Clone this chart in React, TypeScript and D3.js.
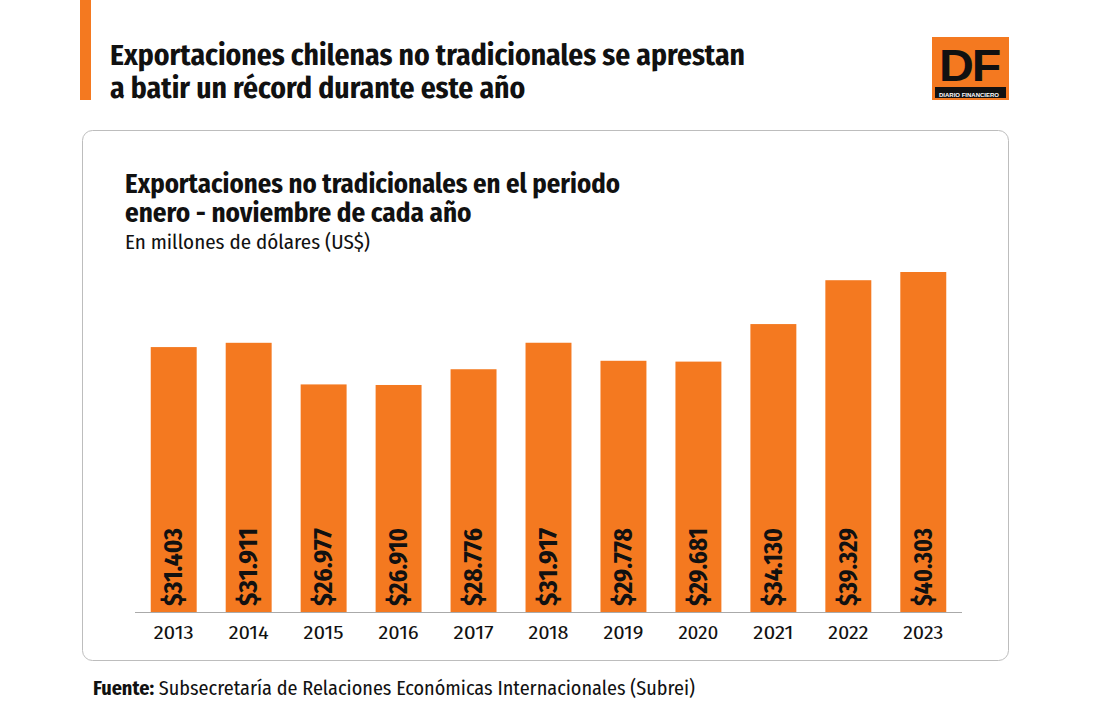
import React from "react";
import * as d3 from "d3";

const years = ["2013", "2014", "2015", "2016", "2017", "2018", "2019", "2020", "2021", "2022", "2023"];
const values = [31403, 31911, 26977, 26910, 28776, 31917, 29778, 29681, 34130, 39329, 40303];
const labels = ["$31.403", "$31.911", "$26.977", "$26.910", "$28.776", "$31.917", "$29.778", "$29.681", "$34.130", "$39.329", "$40.303"];

const W = 1095, H = 720;
const ORANGE = "#F47920";
const FONT = "'Fira Sans Condensed', 'Liberation Sans Narrow', 'DejaVu Sans Condensed', sans-serif";

export default function App() {
  const x = d3.scaleBand<string>().domain(years).range([135, 962]).paddingInner(0.387).paddingOuter(0.21);
  const y = d3.scaleLinear().domain([0, 40303]).range([612, 272]);
  return (
    <svg width={W} height={H} style={{ position: "absolute", left: 0, top: 0, background: "#fff" }} fontFamily={FONT}>
      <rect x={0} y={0} width={W} height={H} fill="#fff" />
      <rect x={80} y={0} width={11} height={100} fill={ORANGE} />
      <text x={110} y={65} fontSize={29.5} fontWeight={700} fill="#111" textLength={635} lengthAdjust="spacingAndGlyphs">Exportaciones chilenas no tradicionales se aprestan</text>
      <text x={110} y={98} fontSize={29.5} fontWeight={700} fill="#111">a batir un récord durante este año</text>
      <g>
        <rect x={932} y={37} width={77} height={63} fill={ORANGE} />
        <rect x={935} y={87} width={71} height={11} fill="#111" />
        <text x={969} y={81} textAnchor="middle" fontSize={44} fontWeight={700} fill="#111" fontFamily="'Liberation Sans', Arial, sans-serif" letterSpacing={-2} textLength={60} lengthAdjust="spacingAndGlyphs">DF</text>
        <text x={969} y={96.5} textAnchor="middle" fontSize={6} fontWeight={700} fill="#fff" fontFamily="'Liberation Sans', Arial, sans-serif">DIARIO FINANCIERO</text>
      </g>
      <rect x={82.5} y={130.5} width={926} height={530} rx={10} fill="#fff" stroke="#bdbdbd" strokeWidth={1} />
      <text x={125} y={193} fontSize={27} fontWeight={700} fill="#111" textLength={495} lengthAdjust="spacingAndGlyphs">Exportaciones no tradicionales en el periodo</text>
      <text x={125} y={222} fontSize={27} fontWeight={700} fill="#111">enero - noviembre de cada año</text>
      <text x={125} y={249} fontSize={20} fill="#111" textLength={245} lengthAdjust="spacingAndGlyphs">En millones de dólares (US$)</text>
      {years.map((yr, i) => {
        const bx = x(yr)!;
        const cx = bx + x.bandwidth() / 2;
        return (
          <g key={yr}>
            <rect x={bx} y={y(values[i])} width={x.bandwidth()} height={612 - y(values[i])} fill={ORANGE} />
            <text transform={`translate(${cx + 8.5},606) rotate(-90)`} fontSize={24.5} fontWeight={700} fill="#111" textLength={78} lengthAdjust="spacingAndGlyphs">{labels[i]}</text>
            <text x={cx} y={639} textAnchor="middle" fontSize={19} fill="#111" textLength={40} lengthAdjust="spacingAndGlyphs">{yr}</text>
          </g>
        );
      })}
      <line x1={135} x2={962} y1={612.5} y2={612.5} stroke="#aaa" strokeWidth={1} />
      <text x={93} y={695} fontSize={20} fill="#111" textLength={602} lengthAdjust="spacingAndGlyphs">
        <tspan fontWeight={700}>Fuente:</tspan> Subsecretaría de Relaciones Económicas Internacionales (Subrei)
      </text>
    </svg>
  );
}
